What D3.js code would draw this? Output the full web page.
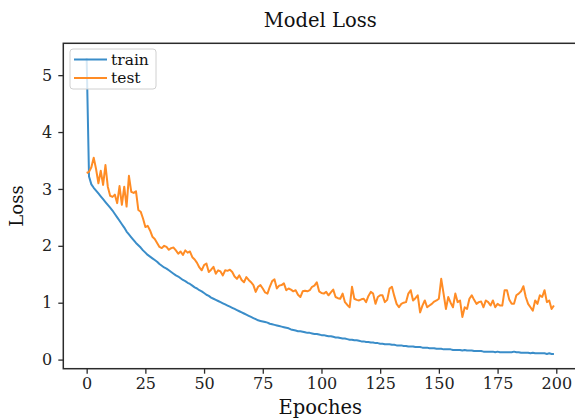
<!DOCTYPE html>
<html>
<head>
<meta charset="utf-8">
<script src="https://cdn.jsdelivr.net/npm/d3@7"></script>
<style>
  body { margin: 0; background: #fff; }
  svg { display: block; font-family: "DejaVu Serif", serif; }
</style>
</head>
<body>
<svg id="chart"></svg>
<script>
let width = 575,
    height = 419;

// loss per epoch
const trainLoss = [
  5.30, 3.22, 3.08, 3.02, 2.97, 2.92, 2.87, 2.82, 2.77, 2.72,
  2.67, 2.62, 2.56, 2.50, 2.44, 2.38, 2.32, 2.25, 2.20, 2.15,
  2.10, 2.05, 2.01, 1.97, 1.92, 1.88, 1.84, 1.81, 1.78, 1.75,
  1.72, 1.68, 1.65, 1.62, 1.60, 1.57, 1.54, 1.51, 1.48, 1.46,
  1.43, 1.40, 1.38, 1.35, 1.33, 1.30, 1.27, 1.25, 1.22, 1.20,
  1.17, 1.14, 1.12, 1.09, 1.07, 1.05, 1.03, 1.01, 0.99, 0.97,
  0.95, 0.93, 0.91, 0.89, 0.87, 0.85, 0.83, 0.81, 0.79, 0.77,
  0.75, 0.73, 0.71, 0.69, 0.68, 0.67, 0.66, 0.65, 0.63, 0.62,
  0.61, 0.60, 0.59, 0.58, 0.57, 0.56, 0.55, 0.53, 0.52, 0.51,
  0.50, 0.50, 0.49, 0.48, 0.47, 0.47, 0.46, 0.45, 0.45, 0.44,
  0.43, 0.43, 0.42, 0.41, 0.41, 0.40, 0.39, 0.39, 0.38, 0.37,
  0.37, 0.36, 0.35, 0.35, 0.34, 0.34, 0.33, 0.32, 0.32, 0.31,
  0.31, 0.30, 0.30, 0.29, 0.29, 0.28, 0.28, 0.27, 0.27, 0.27,
  0.26, 0.26, 0.25, 0.25, 0.25, 0.24, 0.24, 0.23, 0.23, 0.23,
  0.22, 0.22, 0.22, 0.21, 0.21, 0.21, 0.20, 0.20, 0.20, 0.19,
  0.19, 0.19, 0.18, 0.18, 0.18, 0.18, 0.17, 0.17, 0.17, 0.17,
  0.16, 0.17, 0.16, 0.16, 0.16, 0.15, 0.15, 0.15, 0.15, 0.14,
  0.14, 0.14, 0.14, 0.14, 0.13, 0.14, 0.13, 0.13, 0.13, 0.13,
  0.13, 0.13, 0.14, 0.13, 0.13, 0.12, 0.12, 0.12, 0.12, 0.11,
  0.12, 0.11, 0.11, 0.11, 0.11, 0.11, 0.10, 0.11, 0.10, 0.10
];

const testLoss = [
  3.28, 3.30, 3.38, 3.55, 3.35, 3.10, 3.32, 3.07, 3.42, 3.04,
  2.88, 2.86, 2.90, 2.75, 3.05, 2.72, 3.04, 2.69, 3.23, 2.95,
  2.93, 2.96, 2.63, 2.60, 2.48, 2.33, 2.35, 2.27, 2.16, 2.12,
  2.05, 1.98, 1.96, 2.00, 1.98, 1.93, 1.96, 1.97, 1.92, 1.86,
  1.90, 1.84, 1.92, 1.88, 1.90, 1.80, 1.76, 1.70, 1.62, 1.57,
  1.66, 1.69, 1.54, 1.58, 1.63, 1.51, 1.57, 1.55, 1.48, 1.57,
  1.56, 1.58, 1.54, 1.46, 1.42, 1.48, 1.40, 1.36, 1.45, 1.40,
  1.36, 1.31, 1.19, 1.28, 1.31, 1.25, 1.18, 1.16, 1.28, 1.38,
  1.41, 1.25, 1.30, 1.31, 1.34, 1.22, 1.25, 1.23, 1.20, 1.22,
  1.14, 1.10, 1.20, 1.21, 1.20, 1.22, 1.28, 1.30, 1.36, 1.20,
  1.17, 1.16, 1.19, 1.13, 1.18, 1.23, 1.10, 1.08, 1.07, 1.16,
  1.01, 0.96, 0.92, 1.28, 1.07, 1.05, 1.04, 1.06, 1.07, 1.01,
  1.12, 1.19, 1.16, 0.98, 1.10, 1.13, 1.13, 1.01, 1.05, 1.25,
  1.28, 1.12, 0.98, 0.92, 0.98, 1.00, 1.01, 1.16, 1.22, 1.04,
  1.08, 1.13, 0.83, 0.95, 1.04, 0.92, 0.95, 0.98, 1.02, 1.04,
  1.07, 1.42, 1.16, 0.89, 1.10, 1.00, 0.92, 1.16, 1.01, 1.04,
  0.75, 0.92, 0.89, 1.07, 1.13, 1.05, 0.98, 1.01, 1.02, 0.92,
  1.04, 1.01, 0.95, 1.04, 0.92, 0.98, 0.95, 0.95, 1.22, 1.22,
  1.05, 0.98, 0.98, 1.13, 1.16, 1.20, 1.29, 1.10, 0.98, 0.92,
  0.86, 1.04, 0.98, 1.13, 1.10, 1.22, 1.01, 1.04, 0.89, 0.95
];

const xTicks = [0, 25, 50, 75, 100, 125, 150, 175, 200];
const yTicks = [0, 1, 2, 3, 4, 5];
const seriesNames = ["train", "test"];
const seriesColors = ["#3a8dc9", "#ff8c25"];

let svg = d3.select("#chart").attr("width", width).attr("height", height);

// plot box (right edge runs past the window, as in the picture)
const plot = { left: 63.3, top: 43.3, right: 577.3, bottom: 368.7 };

let x = d3.scaleLinear().domain([-9.95, 208.95]).range([plot.left, plot.right]);
let y = d3.scaleLinear().domain([-0.16, 5.56]).range([plot.bottom, plot.top]);

// lines
let line = d3.line()
    .x((d, i) => x(i))
    .y((d) => y(d));

[trainLoss, testLoss].forEach((series, k) => {
    svg.append("path")
        .datum(series)
        .attr("fill", "none")
        .attr("stroke", seriesColors[k])
        .attr("stroke-width", 2)
        .attr("stroke-linejoin", "round")
        .attr("d", line);
});

// frame
svg.append("rect")
    .attr("x", plot.left)
    .attr("y", plot.top)
    .attr("width", plot.right - plot.left)
    .attr("height", plot.bottom - plot.top)
    .attr("fill", "none")
    .attr("stroke", "#2b2b2b")
    .attr("stroke-width", 1.5);

// axes
let xAxis = svg.append("g")
    .attr("transform", `translate(0, ${plot.bottom})`)
    .call(d3.axisBottom(x).tickValues(xTicks).tickFormat(d3.format("d")).tickSize(5).tickPadding(4));

let yAxis = svg.append("g")
    .attr("transform", `translate(${plot.left}, 0)`)
    .call(d3.axisLeft(y).tickValues(yTicks).tickFormat(d3.format("d")).tickSize(5).tickPadding(6));

[xAxis, yAxis].forEach((g) => {
    g.select(".domain").remove();
    g.selectAll(".tick line").attr("stroke", "#2b2b2b").attr("stroke-width", 1.3);
    g.selectAll(".tick text")
        .attr("font-family", "DejaVu Serif, serif")
        .attr("font-size", "16px")
        .attr("fill", "#222");
});

// title and axis labels
svg.append("text")
    .attr("x", (plot.left + plot.right) / 2)
    .attr("y", 27)
    .attr("text-anchor", "middle")
    .attr("font-size", "19.5px")
    .attr("fill", "#111")
    .text("Model Loss");

svg.append("text")
    .attr("x", (plot.left + plot.right) / 2)
    .attr("y", 414)
    .attr("text-anchor", "middle")
    .attr("font-size", "19.5px")
    .attr("fill", "#111")
    .text("Epoches");

svg.append("text")
    .attr("transform", `translate(23, ${(plot.top + plot.bottom) / 2}) rotate(-90)`)
    .attr("text-anchor", "middle")
    .attr("font-size", "18px")
    .attr("fill", "#111")
    .text("Loss");

// legend
let legend = svg.append("g").attr("transform", "translate(70, 49)");

legend.append("rect")
    .attr("width", 86)
    .attr("height", 40)
    .attr("rx", 3)
    .attr("fill", "#fff")
    .attr("fill-opacity", 0.8)
    .attr("stroke", "#d0d0d0")
    .attr("stroke-width", 1);

seriesNames.forEach((name, i) => {
    let row = legend.append("g").attr("transform", `translate(0, ${10.5 + i * 18.5})`);
    row.append("line")
        .attr("x1", 4)
        .attr("x2", 37)
        .attr("stroke", seriesColors[i])
        .attr("stroke-width", 2.2);
    row.append("text")
        .attr("x", 41)
        .attr("y", 5)
        .attr("font-size", "15.5px")
        .attr("fill", "#111")
        .text(name);
});
</script>
</body>
</html>
